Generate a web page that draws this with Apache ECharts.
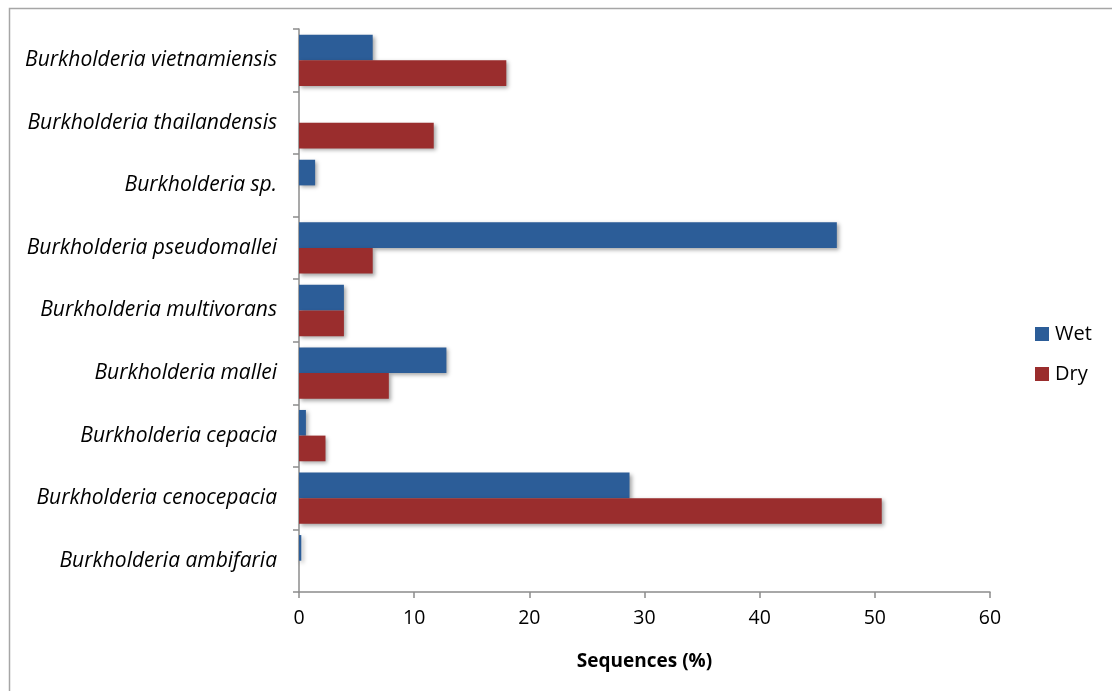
<!DOCTYPE html>
<html>
<head>
<meta charset="utf-8">
<title>Burkholderia sequences</title>
<script src="https://cdn.jsdelivr.net/npm/echarts@6/dist/echarts.min.js"></script>
<style>
  html, body { margin: 0; padding: 0; background: #fff; }
  #chart { width: 1112px; height: 691px; }
</style>
</head>
<body>
<div id="chart"></div>
<script>
// Species, listed bottom to top along the category axis
const species = [
  'Burkholderia ambifaria',
  'Burkholderia cenocepacia',
  'Burkholderia cepacia',
  'Burkholderia mallei',
  'Burkholderia multivorans',
  'Burkholderia pseudomallei',
  'Burkholderia sp.',
  'Burkholderia thailandensis',
  'Burkholderia vietnamiensis'
];

// Share of sequences (%) per season
const wetValues = [0.2, 28.7, 0.6, 12.8, 3.9, 46.7, 1.4, 0, 6.4];
const dryValues = [0, 50.6, 2.3, 7.8, 3.9, 6.4, 0, 11.7, 18.0];

const xTicks = { min: 0, max: 60, step: 10 };

const FONT = '"Open Sans", "Noto Sans", sans-serif';
const barShadow = {
  shadowColor: 'rgba(0,0,0,0.35)',
  shadowBlur: 4,
  shadowOffsetX: 2,
  shadowOffsetY: 2
};

const chart = echarts.init(document.getElementById('chart'), null, { renderer: 'canvas' });

chart.setOption({
  backgroundColor: '#fff',
  animation: false,
  textStyle: { fontFamily: FONT },
  graphic: [{
    type: 'rect',
    shape: { x: 9.5, y: 8.5, width: 1200, height: 800 },
    style: { fill: 'none', stroke: '#a6a6a6', lineWidth: 1.5 },
    silent: true
  }],
  grid: { left: 299, right: 122, top: 29, bottom: 99, containLabel: false },
  legend: {
    orient: 'vertical',
    left: 1035,
    top: 324,
    padding: 0,
    itemWidth: 14,
    itemHeight: 14,
    itemGap: 20,
    icon: 'rect',
    data: ['Wet', 'Dry'],
    textStyle: { fontFamily: FONT, fontSize: 20, color: '#000', padding: [0, 0, 0, 1] }
  },
  xAxis: {
    type: 'value',
    min: xTicks.min,
    max: xTicks.max,
    interval: xTicks.step,
    name: 'Sequences (%)',
    nameLocation: 'middle',
    nameGap: 60,
    nameTextStyle: { fontFamily: FONT, fontSize: 19, fontWeight: 'bold', color: '#000' },
    axisLine: { show: true, lineStyle: { color: '#8c8c8c', width: 1.5 } },
    axisTick: { show: true, length: 6, inside: false, lineStyle: { color: '#8c8c8c', width: 1.5 } },
    axisLabel: { fontFamily: FONT, fontSize: 19.5, color: '#000', margin: 16 },
    splitLine: { show: false }
  },
  yAxis: {
    type: 'category',
    data: species,
    axisLine: { show: true, lineStyle: { color: '#8c8c8c', width: 1.5 } },
    axisTick: { show: true, length: 6, inside: false, lineStyle: { color: '#8c8c8c', width: 1.5 } },
    axisLabel: { fontFamily: FONT, fontSize: 21, fontStyle: 'italic', color: '#000', margin: 22 },
    splitLine: { show: false }
  },
  series: [
    {
      name: 'Wet',
      type: 'bar',
      data: wetValues,
      barGap: '0%',
      barCategoryGap: '18%',
      itemStyle: Object.assign({ color: '#2c5d98' }, barShadow)
    },
    {
      name: 'Dry',
      type: 'bar',
      data: dryValues,
      barGap: '0%',
      barCategoryGap: '18%',
      itemStyle: Object.assign({ color: '#9a2d2d' }, barShadow)
    }
  ]
});
</script>
</body>
</html>
